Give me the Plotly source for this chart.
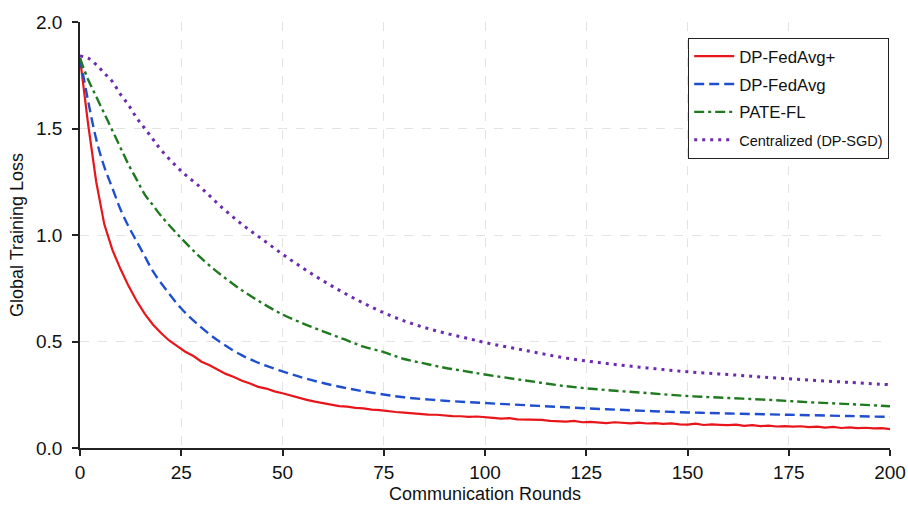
import plotly.graph_objects as go

# ---- data ----
red_x = list(range(0, 201, 2))
red_y = [1.83, 1.52, 1.25, 1.05, 0.93, 0.84, 0.76, 0.69, 0.63, 0.58,
         0.54, 0.505, 0.478, 0.452, 0.432, 0.405, 0.388, 0.366, 0.348, 0.333,
         0.316, 0.303, 0.287, 0.279, 0.266, 0.257, 0.246, 0.236, 0.226, 0.218,
         0.210, 0.205, 0.197, 0.194, 0.188, 0.186, 0.180, 0.178, 0.172, 0.169,
         0.166, 0.162, 0.160, 0.157, 0.156, 0.152, 0.150, 0.149, 0.146, 0.148,
         0.143, 0.141, 0.138, 0.140, 0.134, 0.133, 0.130, 0.132, 0.127, 0.126,
         0.124, 0.127, 0.121, 0.123, 0.120, 0.117, 0.121, 0.118, 0.116, 0.119,
         0.115, 0.117, 0.113, 0.116, 0.111, 0.110, 0.114, 0.108, 0.111, 0.109,
         0.107, 0.110, 0.104, 0.107, 0.103, 0.105, 0.101, 0.103, 0.100, 0.102,
         0.098, 0.100, 0.096, 0.099, 0.094, 0.097, 0.093, 0.095, 0.092, 0.093,
         0.089]

blue_x = [0, 2, 4, 6, 8, 10, 12, 14, 16, 18, 20, 25, 30, 35, 40, 45, 50, 55, 60, 65,
          70, 75, 80, 90, 100, 110, 120, 130, 140, 150, 160, 175, 190, 200]
blue_y = [1.83, 1.63, 1.45, 1.32, 1.22, 1.12, 1.04, 0.97, 0.90, 0.83, 0.775, 0.655,
          0.565, 0.492, 0.435, 0.393, 0.36, 0.33, 0.305, 0.284, 0.266, 0.251, 0.238,
          0.222, 0.211, 0.201, 0.191, 0.182, 0.174, 0.167, 0.162, 0.156, 0.150, 0.146]

green_x = [0, 2, 4, 6, 8, 10, 12, 14, 16, 18, 20, 25, 30, 35, 40, 45, 50, 55, 60, 65,
           70, 75, 80, 85, 90, 95, 100, 110, 120, 130, 140, 150, 160, 170, 180, 190, 200]
green_y = [1.83, 1.73, 1.65, 1.57, 1.49, 1.41, 1.33, 1.26, 1.19, 1.14, 1.09, 0.985,
           0.89, 0.81, 0.74, 0.68, 0.627, 0.585, 0.548, 0.512, 0.476, 0.45, 0.418,
           0.397, 0.377, 0.361, 0.345, 0.317, 0.29, 0.272, 0.258, 0.244, 0.235,
           0.226, 0.215, 0.206, 0.196]

purple_x = [0, 2, 4, 6, 8, 10, 12, 14, 16, 18, 20, 25, 30, 35, 40, 45, 50, 55, 60, 65,
            70, 75, 80, 85, 90, 95, 100, 110, 120, 130, 140, 150, 160, 170, 180, 190, 200]
purple_y = [1.84, 1.83, 1.80, 1.76, 1.72, 1.66, 1.61, 1.55, 1.50, 1.45, 1.40, 1.30,
            1.22, 1.13, 1.05, 0.98, 0.91, 0.845, 0.785, 0.73, 0.68, 0.635, 0.597,
            0.566, 0.54, 0.518, 0.495, 0.458, 0.422, 0.397, 0.376, 0.358, 0.345,
            0.331, 0.319, 0.308, 0.297]

names = ["DP-FedAvg+", "DP-FedAvg", "PATE-FL",
         '<span style="font-size:14.5px">Centralized (DP-SGD)</span>']
colors = ["#e8151b", "#1f4fcf", "#1f7a1f", "#6a2bb0"]
dashes = ["solid", "10px,5px", "10px,4px,3px,4px", "3px,5px"]
widths = [2.2, 2.4, 2.4, 3.0]

fig = go.Figure()
series = [(red_x, red_y), (blue_x, blue_y), (green_x, green_y), (purple_x, purple_y)]
for i, ((xs, ys), n, c, d, w) in enumerate(zip(series, names, colors, dashes, widths)):
    fig.add_trace(go.Scatter(
        x=xs, y=ys, mode="lines", name=n, legendgroup=f"g{i}",
        line=dict(color=c, width=w, dash=d,
                  shape="linear" if d == "solid" else "spline"),
    ))

font_family = "Liberation Sans, Arial, Helvetica, sans-serif"
fig.update_layout(
    width=908, height=505,
    margin=dict(l=80, r=18, t=22, b=57),
    paper_bgcolor="white", plot_bgcolor="white",
    font=dict(family=font_family, color="#111", size=18),
    showlegend=True,
    legend=dict(
        x=0.999, y=0.963, xanchor="right", yanchor="top",
        bgcolor="white", bordercolor="#222", borderwidth=1,
        font=dict(size=16.8, family=font_family),
        tracegroupgap=3, itemwidth=40,
    ),
    xaxis=dict(
        range=[0, 200], tickvals=[0, 25, 50, 75, 100, 125, 150, 175, 200],
        showline=True, linecolor="#222", linewidth=1.8,
        ticks="outside", ticklen=6, tickwidth=1.5, tickcolor="#222",
        tickfont=dict(size=19), automargin=False,
        showgrid=True, gridcolor="#e3e3e3", griddash="dash", gridwidth=1,
        zeroline=False,
        title=dict(text="Communication Rounds", font=dict(size=18), standoff=6),
    ),
    yaxis=dict(
        range=[0, 2.0], tickvals=[0, 0.5, 1.0, 1.5, 2.0],
        ticktext=["0.0", "0.5", "1.0", "1.5", "2.0"],
        showline=True, linecolor="#222", linewidth=1.8,
        ticks="outside", ticklen=6, tickwidth=1.5, tickcolor="#222",
        tickfont=dict(size=19), automargin=False, ticklabelstandoff=6,
        showgrid=True, gridcolor="#e3e3e3", griddash="dash", gridwidth=1,
        zeroline=False,
        title=dict(text="Global Training Loss", font=dict(size=18), standoff=8),
    ),
)

fig.write_html(
    "out.html",
    config={"displayModeBar": False},
    post_script="document.body.style.margin='0';document.body.style.overflow='hidden';",
)
